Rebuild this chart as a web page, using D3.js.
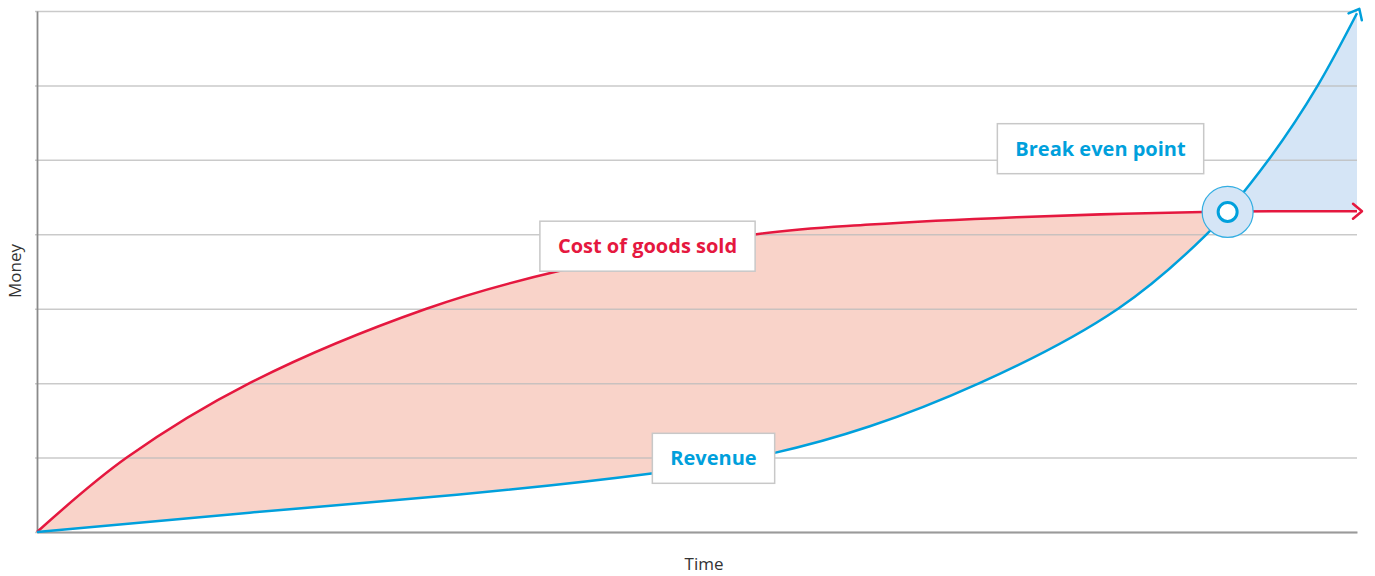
<!DOCTYPE html>
<html>
<head>
<meta charset="utf-8">
<script src="https://cdn.jsdelivr.net/npm/d3@7"></script>
<style>
  html, body { margin: 0; padding: 0; background: #fff; }
  svg { display: block; }
</style>
</head>
<body>
<div id="chart"></div>
<script>
// Values (x = time 0..100, y = money 0..7)
const costX    = [0, 6.8, 16.1, 29.5, 39.6, 54.5, 63.1, 74.2, 88.3, 100];
const costY    = [0, 1.0, 2.0, 3.0, 3.51, 4.0, 4.13, 4.23, 4.30, 4.31];
const revenueX = [0, 16.1, 31.8, 46.7, 55.8, 63.1, 71.4, 81.9, 88.6, 90.2, 93.3, 97.0, 100];
const revenueY = [0, 0.26, 0.50, 0.79, 1.06, 1.42, 2.00, 3.00, 4.00, 4.30, 5.00, 5.99, 6.97];
const breakEven = [90.2, 4.30];
const yTicks = [0, 1, 2, 3, 4, 5, 6, 7];
const labelTexts = ["Cost of goods sold", "Revenue", "Break even point"];

const cost = costX.map((v, i) => [v, costY[i]]);
const revenue = revenueX.map((v, i) => [v, revenueY[i]]);

const chart = (() => {
  const width = 1375;
  const height = 576;
  const red = "#e5183f";
  const blue = "#00a0dc";

  const x = d3.scaleLinear([0, 100], [37, 1357]);
  const y = d3.scaleLinear([0, 7], [532, 11]);
  const costCurve = d3.curveCatmullRom.alpha(0.5);
  const revCurve = d3.curveNatural;

  const svg = d3.select("#chart").append("svg")
    .attr("width", width)
    .attr("height", height)
    .attr("viewBox", [0, 0, width, height])
    .style("font-family", "'Open Sans', sans-serif");

  const defs = svg.append("defs");

  const line = c => d3.line().x(d => x(d[0])).y(d => y(d[1])).curve(c);
  const above = c => d3.area().x(d => x(d[0])).y0(0).y1(d => y(d[1])).curve(c);
  const below = c => d3.area().x(d => x(d[0])).y0(y(0)).y1(d => y(d[1])).curve(c);

  // clip regions above each curve
  defs.append("clipPath").attr("id", "above-rev")
    .append("path").attr("d", above(revCurve)(revenue));
  defs.append("clipPath").attr("id", "above-cost")
    .append("path").attr("d", above(costCurve)(cost));

  // arrow heads
  [["arrow-red", red], ["arrow-blue", blue]].forEach(([id, c]) => {
    defs.append("marker")
      .attr("id", id)
      .attr("viewBox", "-12 -12 24 24")
      .attr("markerWidth", 24)
      .attr("markerHeight", 24)
      .attr("markerUnits", "userSpaceOnUse")
      .attr("orient", "auto")
      .append("path")
      .attr("d", "M-4,-7.5L5,0L-4,7.5")
      .attr("fill", "none")
      .attr("stroke", c)
      .attr("stroke-width", 2.5)
      .attr("stroke-linecap", "round")
      .attr("stroke-linejoin", "round");
  });

  // fills: loss region (cost above revenue) and profit region
  svg.append("path")
    .attr("d", below(costCurve)(cost))
    .attr("fill", "#f9d3c9")
    .attr("clip-path", "url(#above-rev)");
  svg.append("path")
    .attr("d", below(revCurve)(revenue))
    .attr("fill", "#d5e5f6")
    .attr("clip-path", "url(#above-cost)");

  // gridlines
  svg.append("g")
    .attr("transform", "translate(35,0)")
    .call(d3.axisRight(y).tickValues(yTicks).tickSize(1322).tickFormat(""))
    .call(g => g.select(".domain").remove())
    .call(g => g.selectAll(".tick line")
      .attr("stroke", "#bdbdbd")
      .attr("stroke-opacity", 0.8)
      .attr("stroke-width", 1.5));

  // axes
  svg.append("g")
    .attr("transform", `translate(${x(0)},0)`)
    .call(d3.axisLeft(y).tickValues([]).tickSizeOuter(0))
    .call(g => g.select(".domain").attr("stroke", "#8a8a8a").attr("stroke-width", 1.8));
  svg.append("g")
    .attr("transform", `translate(0,${y(0)})`)
    .call(d3.axisBottom(x).tickValues([]).tickSizeOuter(0))
    .call(g => g.select(".domain").attr("stroke", "#9a9a9a").attr("stroke-width", 2));

  // curves
  svg.append("path")
    .attr("d", line(costCurve)(cost))
    .attr("fill", "none")
    .attr("stroke", red)
    .attr("stroke-width", 2.5)
    .attr("marker-end", "url(#arrow-red)");
  svg.append("path")
    .attr("d", line(revCurve)(revenue))
    .attr("fill", "none")
    .attr("stroke", blue)
    .attr("stroke-width", 2.5)
    .attr("marker-end", "url(#arrow-blue)");

  // break even marker
  const be = svg.append("g")
    .attr("transform", `translate(${x(breakEven[0])},${y(breakEven[1])})`);
  be.append("circle").attr("r", 25.5)
    .attr("fill", "#d5e5f6").attr("stroke", "#33aee2").attr("stroke-width", 1.2);
  be.append("circle").attr("r", 9.5)
    .attr("fill", "#fff").attr("stroke", blue).attr("stroke-width", 3);

  // label boxes (centre positions in data units)
  const labels = [
    { text: labelTexts[0], cx: 46.25, cy: 3.84, color: red },
    { text: labelTexts[1], cx: 51.25, cy: 0.99, color: blue },
    { text: labelTexts[2], cx: 80.57, cy: 5.15, color: blue }
  ];
  labels.forEach(d => {
    const g = svg.append("g").attr("transform", `translate(${x(d.cx)},${y(d.cy)})`);
    const rect = g.append("rect");
    const t = g.append("text")
      .attr("text-anchor", "middle")
      .attr("dy", "0.35em")
      .attr("fill", d.color)
      .attr("font-weight", "bold")
      .attr("font-size", 20)
      .text(d.text);
    const w = t.node().getComputedTextLength() + 36;
    rect.attr("x", -w / 2).attr("y", -25).attr("width", w).attr("height", 50)
      .attr("fill", "#fff").attr("stroke", "#c8c8c8").attr("stroke-width", 1.5);
  });

  // axis titles
  svg.append("text")
    .attr("x", 704).attr("y", 570)
    .attr("text-anchor", "middle")
    .attr("font-size", 17)
    .attr("fill", "#333")
    .text("Time");
  svg.append("text")
    .attr("transform", "translate(21,271) rotate(-90)")
    .attr("text-anchor", "middle")
    .attr("font-size", 17)
    .attr("fill", "#333")
    .text("Money");

  return svg.node();
})();
</script>
</body>
</html>
